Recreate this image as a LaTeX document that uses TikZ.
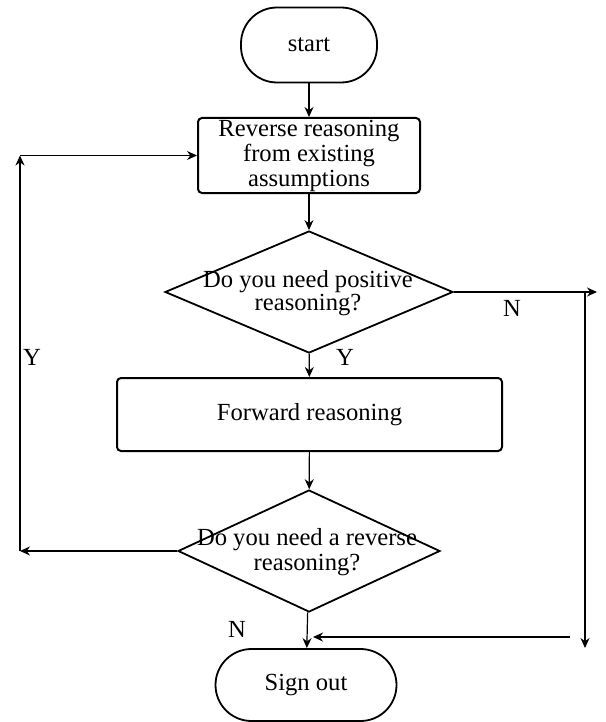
\documentclass[tikz,border=0pt]{standalone}
\usepackage{fontspec}
\setmainfont{Liberation Serif}
\usetikzlibrary{shapes.geometric,arrows.meta}
\begin{document}
\begin{tikzpicture}[x=0.5pt,y=-0.5pt,
  every node/.style={font=\fontsize{12.3}{12.5}\selectfont},
  term/.style={draw,line width=0.9pt,rounded corners=18pt,inner sep=0pt},
  procbox/.style={draw,line width=1pt,rounded corners=2pt,align=center,inner sep=0pt},
  decision/.style={draw,diamond,line width=0.9pt,inner sep=0pt},
  dtext/.style={align=center,inner sep=0pt},
  lbl/.style={inner sep=0pt},
  arr/.style={-{Stealth[length=5pt,width=4.5pt]},line width=0.6pt},
  plain/.style={line width=0.6pt}]
\useasboundingbox (0,0) rectangle (605,722);

\node[term,minimum width=68pt,minimum height=37.5pt] (start) at (309,45) {start};
\node[procbox,minimum width=111pt,minimum height=37.5pt] (rev) at (309,155.5) {Reverse reasoning\\from existing\\assumptions};
\node[decision,minimum width=144pt,minimum height=61pt] (d1) at (309,292) {};
\node[dtext,font=\fontsize{12.3}{11.5}\selectfont] (d1t) at (308,293) {Do you need positive\\reasoning?};
\node[procbox,minimum width=192.5pt,minimum height=36.5pt] (fwd) at (309.5,414.5) {Forward reasoning};
\node[decision,minimum width=131pt,minimum height=61pt] (d2) at (309,551) {};
\node[dtext] (d2t) at (307,552) {Do you need a reverse\\reasoning?};
\node[term,minimum width=90.5pt,minimum height=36pt] (stop) at (306,685) {Sign out};

\node[lbl] (ly1) at (345,357) {Y};
\node[lbl] (ln1) at (512,308) {N};
\node[lbl] (ly2) at (32,357) {Y};
\node[lbl] (ln2) at (237,629) {N};

\coordinate (l1) at (20,551);
\coordinate (l2) at (20,155.5);
\coordinate (r1) at (597,292);
\coordinate (r2) at (585,292);
\coordinate (r3) at (585,648);
\coordinate (b1) at (570,637);
\coordinate (b2) at (313,637);

\draw[arr] (start) -- (rev);
\draw[arr] (rev) -- (d1);
\draw[arr] (d1) -- (fwd);
\draw[arr] (fwd) -- (d2);
\draw[arr] (d2) -- (stop);

\draw[arr] (d2.west) -- (l1);
\draw[arr] (l1) -- (l2);
\draw[arr] (l2) -- (rev.west);

\draw[arr] (d1.east) -- (r1);
\draw[arr] (r2) -- (r3);
\draw[arr] (b1) -- (b2);
\end{tikzpicture}
\end{document}
